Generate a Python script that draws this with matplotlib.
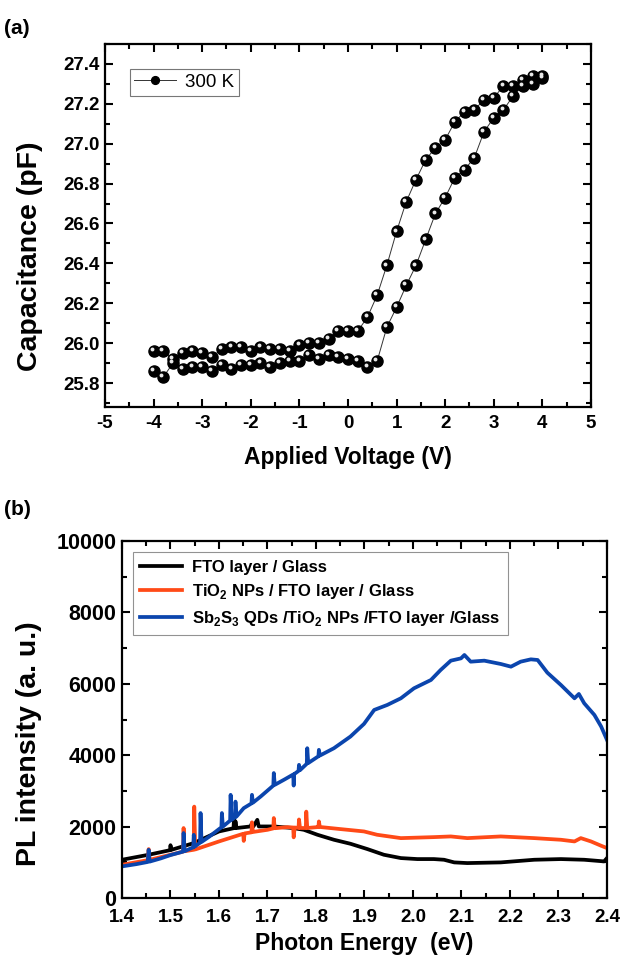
import numpy as np
import matplotlib
matplotlib.use('Agg')
import matplotlib.pyplot as plt
import matplotlib.transforms as mtransforms
from matplotlib.ticker import MultipleLocator

plt.rcParams['font.family'] = ['Liberation Sans', 'DejaVu Sans']
plt.rcParams['mathtext.fontset'] = 'custom'
plt.rcParams['mathtext.rm'] = 'Liberation Sans'
plt.rcParams['mathtext.bf'] = 'Liberation Sans:bold'

# (a) C-V hysteresis at 300 K
voltage = [-4.0, -3.8, -3.6, -3.4, -3.2, -3.0, -2.8, -2.6, -2.4, -2.2, -2.0,
           -1.8, -1.6, -1.4, -1.2, -1.0, -0.8, -0.6, -0.4, -0.2, 0.0,
           0.2, 0.4, 0.6, 0.8, 1.0, 1.2, 1.4, 1.6, 1.8, 2.0,
           2.2, 2.4, 2.6, 2.8, 3.0, 3.2, 3.4, 3.6, 3.8, 4.0]
cap_forward = [25.86, 25.83, 25.90, 25.87, 25.88, 25.88, 25.86, 25.89, 25.87, 25.89, 25.89,
               25.90, 25.88, 25.90, 25.91, 25.91, 25.94, 25.92, 25.94, 25.93, 25.92,
               25.91, 25.88, 25.91, 26.08, 26.18, 26.29, 26.39, 26.52, 26.65, 26.73,
               26.83, 26.87, 26.93, 27.06, 27.13, 27.17, 27.24, 27.29, 27.30, 27.33]
cap_reverse = [25.96, 25.96, 25.92, 25.95, 25.96, 25.95, 25.93, 25.97, 25.98, 25.98, 25.96,
               25.98, 25.97, 25.97, 25.96, 25.99, 26.00, 26.00, 26.02, 26.06, 26.06,
               26.06, 26.13, 26.24, 26.39, 26.56, 26.71, 26.82, 26.92, 26.98, 27.02,
               27.11, 27.16, 27.17, 27.22, 27.23, 27.29, 27.29, 27.32, 27.34, 27.34]

# (b) PL spectra
fto_e = [1.400, 1.455, 1.499, 1.500, 1.502, 1.548, 1.600, 1.630, 1.631, 1.633, 1.634, 1.636,
         1.665, 1.668, 1.671, 1.679, 1.682, 1.713, 1.754, 1.775, 1.803, 1.837, 1.871, 1.906,
         1.940, 1.975, 2.009, 2.043, 2.064, 2.085, 2.112, 2.181, 2.250, 2.305, 2.353, 2.394, 2.400]
fto_i = [1072, 1212, 1340, 1480, 1350, 1539, 1865, 1955, 2240, 1957, 2150, 1960,
         2005, 2100, 2005, 2190, 2005, 2005, 1958, 1911, 1772, 1632, 1520, 1371,
         1212, 1119, 1091, 1091, 1072, 998, 979, 998, 1072, 1091, 1072, 1026, 1119]

tio2_e = [1.400, 1.453, 1.455, 1.457, 1.500, 1.526, 1.527, 1.529, 1.548, 1.549, 1.551, 1.600,
          1.650, 1.651, 1.653, 1.667, 1.668, 1.670, 1.700, 1.712, 1.713, 1.715, 1.741, 1.753,
          1.754, 1.756, 1.764, 1.765, 1.767, 1.779, 1.780, 1.782, 1.803, 1.805, 1.806, 1.808,
          1.851, 1.899, 1.926, 1.975, 2.043, 2.078, 2.112, 2.181, 2.250, 2.305, 2.333, 2.346,
          2.367, 2.388, 2.400]
tio2_i = [932, 1060, 1370, 1070, 1212, 1300, 1960, 1310, 1352, 2560, 1360, 1585,
          1800, 1600, 1810, 1840, 2120, 1850, 1911, 1950, 2240, 1955, 1986, 1975,
          1700, 1975, 1965, 2200, 1962, 1960, 2420, 1962, 1986, 1990, 2145, 1990,
          1930, 1865, 1772, 1678, 1706, 1725, 1678, 1725, 1678, 1632, 1585, 1678,
          1585, 1464, 1399]

sb2s3_e = [1.400, 1.430, 1.453, 1.455, 1.457, 1.480, 1.500, 1.526, 1.527, 1.529, 1.547, 1.548,
           1.550, 1.561, 1.562, 1.564, 1.580, 1.600, 1.605, 1.606, 1.608, 1.623, 1.624, 1.626,
           1.633, 1.634, 1.636, 1.651, 1.667, 1.668, 1.670, 1.686, 1.712, 1.713, 1.715, 1.735,
           1.753, 1.754, 1.755, 1.764, 1.765, 1.767, 1.781, 1.782, 1.784, 1.805, 1.806, 1.808,
           1.837, 1.871, 1.899, 1.920, 1.947, 1.975, 2.002, 2.037, 2.057, 2.078, 2.099, 2.106,
           2.119, 2.147, 2.181, 2.202, 2.222, 2.243, 2.257, 2.277, 2.305, 2.333, 2.342, 2.353,
           2.374, 2.388, 2.400]
sb2s3_i = [886, 950, 1010, 1350, 1020, 1110, 1203, 1300, 1820, 1310, 1420, 1770,
           1440, 1550, 2380, 1570, 1720, 1930, 1980, 2380, 2000, 2170, 2890, 2190,
           2260, 2700, 2280, 2517, 2650, 2890, 2670, 2844, 3150, 3500, 3170, 3320,
           3460, 3150, 3470, 3560, 3730, 3580, 3760, 4196, 3780, 3970, 4150, 3990,
           4196, 4522, 4877, 5268, 5408, 5594, 5874, 6107, 6387, 6648, 6713, 6807,
           6620, 6648, 6555, 6480, 6620, 6685, 6667, 6312, 5967, 5594, 5716, 5455,
           5128, 4802, 4429]

fig = plt.figure(figsize=(6.23, 9.58), dpi=100, facecolor='w')


def style_axes(ax, tick_size_x, tick_size_y, xpad=6):
    for sp in ax.spines.values():
        sp.set_linewidth(1.6)
    ax.tick_params(which='both', direction='in', top=True, right=True, width=1.5)
    ax.tick_params(which='major', length=6)
    ax.tick_params(which='minor', length=3.5)
    ax.tick_params(axis='x', labelsize=tick_size_x, pad=xpad)
    ax.tick_params(axis='y', labelsize=tick_size_y, pad=4)
    for lab in ax.get_xticklabels() + ax.get_yticklabels():
        lab.set_fontweight('bold')


# ---- panel (a)
ax1 = fig.add_axes([0.1685, 0.5752, 0.7801, 0.3789])
v_loop = voltage + voltage[::-1]
c_loop = cap_forward + cap_reverse[::-1]
line, = ax1.plot(v_loop, c_loop, '-', color='#333333', lw=0.7, marker='o', ms=8,
                 mfc='black', mec='black', label='300 K')
shine = mtransforms.offset_copy(ax1.transData, fig=fig, x=-1.3, y=1.3, units='points')
ax1.plot(v_loop, c_loop, 'o', ms=2.8, color='#e8e8e8', mec='none', transform=shine)
ax1.set_xlim(-5, 5)
ax1.set_ylim(25.68, 27.5)
ax1.set_xticks(np.arange(-5, 6, 1))
ax1.set_xticklabels([str(v) for v in range(-5, 6)])
ax1.xaxis.set_minor_locator(MultipleLocator(0.5))
ax1.set_yticks([25.8, 26.0, 26.2, 26.4, 26.6, 26.8, 27.0, 27.2, 27.4])
ax1.set_yticklabels(['25.8', '26.0', '26.2', '26.4', '26.6', '26.8', '27.0', '27.2', '27.4'])
ax1.yaxis.set_minor_locator(MultipleLocator(0.1))
style_axes(ax1, 13.5, 13.5)
ax1.set_xlabel('Applied Voltage (V)', fontsize=16.5, fontweight='bold', labelpad=10)
ax1.set_ylabel('Capacitance (pF)', fontsize=20.5, fontweight='bold')
ax1.yaxis.set_label_coords(-0.128, 0.416)
leg1 = ax1.legend(loc='upper left', fontsize=13.5, frameon=True, fancybox=False,
                  edgecolor='#555555', handlelength=2.2, handletextpad=0.5,
                  borderpad=0.25, borderaxespad=0, markerscale=0.7,
                  bbox_to_anchor=(0.051, 0.931))
leg1.get_frame().set_linewidth(0.8)
fig.text(0.007, 0.965, '(a)', fontsize=15, fontweight='bold')

# ---- panel (b)
ax2 = fig.add_axes([0.1958, 0.0626, 0.7785, 0.3727])
ax2.plot(fto_e, fto_i, color='black', lw=2.7, label='FTO layer / Glass')
ax2.plot(tio2_e, tio2_i, color='#ff4a17', lw=2.7,
         label=r'TiO$_\mathbf{2}$ NPs / FTO layer / Glass')
ax2.plot(sb2s3_e, sb2s3_i, color='#0b45ad', lw=2.7,
         label=r'Sb$_\mathbf{2}$S$_\mathbf{3}$ QDs /TiO$_\mathbf{2}$ NPs /FTO layer /Glass')
ax2.set_xlim(1.4, 2.4)
ax2.set_ylim(0, 10000)
ax2.set_xticks([1.4, 1.5, 1.6, 1.7, 1.8, 1.9, 2.0, 2.1, 2.2, 2.3, 2.4])
ax2.set_xticklabels(['1.4', '1.5', '1.6', '1.7', '1.8', '1.9', '2.0', '2.1', '2.2', '2.3', '2.4'])
ax2.xaxis.set_minor_locator(MultipleLocator(0.05))
ax2.set_yticks([0, 2000, 4000, 6000, 8000, 10000])
ax2.yaxis.set_minor_locator(MultipleLocator(1000))
style_axes(ax2, 13.5, 15.5, xpad=8)
ax2.set_xlabel('Photon Energy  (eV)', fontsize=16.5, fontweight='bold', labelpad=4)
ax2.set_ylabel('PL intensity (a. u.)', fontsize=20.5, fontweight='bold')
ax2.yaxis.set_label_coords(-0.165, 0.431)
leg2 = ax2.legend(loc='upper left', prop={'size': 12, 'weight': 'bold'}, frameon=True,
                  fancybox=False, edgecolor='#777777', handlelength=2.5,
                  handletextpad=0.6, borderaxespad=0, borderpad=0.45,
                  bbox_to_anchor=(0.0227, 0.969), labelspacing=0.45)
leg2.get_frame().set_linewidth(0.8)
fig.text(0.007, 0.462, '(b)', fontsize=15, fontweight='bold')

fig.savefig('out.png', dpi=100)
